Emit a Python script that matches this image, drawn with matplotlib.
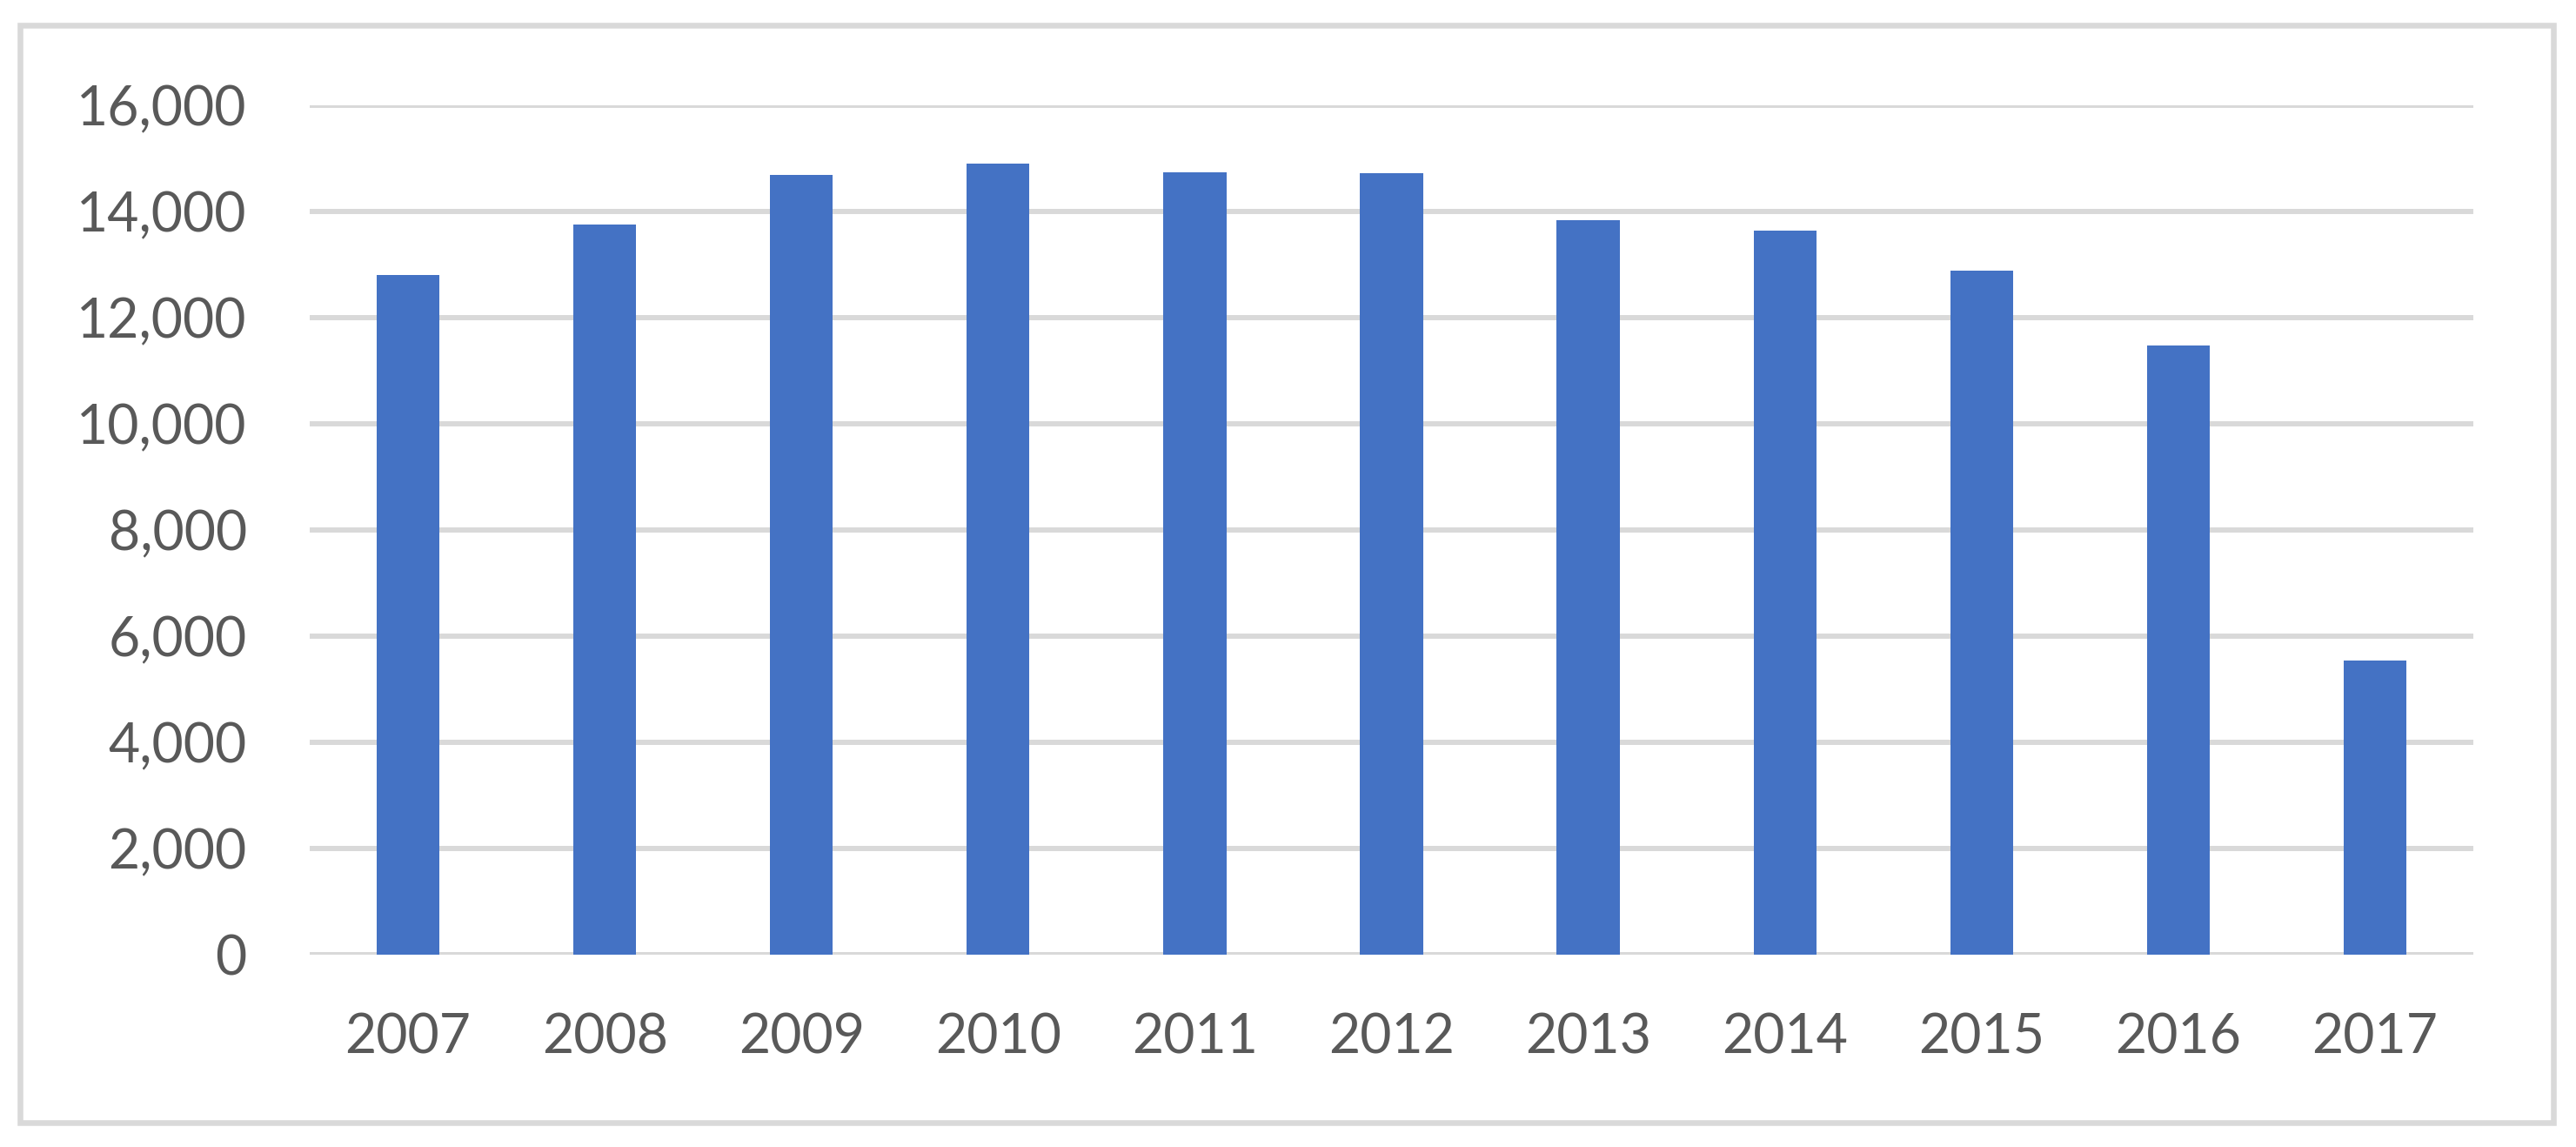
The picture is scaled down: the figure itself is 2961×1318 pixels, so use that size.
import matplotlib
matplotlib.use("Agg")
import matplotlib.pyplot as plt
from matplotlib.patches import Rectangle

years = ["2007", "2008", "2009", "2010", "2011", "2012", "2013", "2014", "2015", "2016", "2017"]
values = [12800, 13750, 14690, 14900, 14740, 14720, 13840, 13640, 12885, 11475, 5540]
y_ticks = [0, 2000, 4000, 6000, 8000, 10000, 12000, 14000, 16000]
y_tick_labels = ["0", "2,000", "4,000", "6,000", "8,000", "10,000", "12,000", "14,000", "16,000"]

W, H, DPI = 2961, 1318, 100
plt.rcParams['font.family'] = ['Lato', 'DejaVu Sans']

fig = plt.figure(figsize=(W / DPI, H / DPI), dpi=DPI)
fig.patch.set_facecolor("white")

left, right = 356 / W, 2843 / W
bottom, top = (H - 1097) / H, (H - 121) / H
ax = fig.add_axes([left, bottom, right - left, top - bottom])

x = list(range(len(years)))
ax.bar(x, values, width=0.32, color="#4472C4", zorder=3)

ax.set_xlim(-0.5, len(years) - 0.5)
ax.set_ylim(0, 16000)
ax.set_yticks(y_ticks)
ax.set_yticklabels(y_tick_labels)
ax.set_xticks(x)
ax.set_xticklabels(years)

ax.grid(axis="y", color="#D9D9D9", linewidth=4.3, zorder=0)
ax.grid(axis="x", visible=False)
ax.set_axisbelow(True)
for s in ax.spines.values():
    s.set_visible(False)
ax.tick_params(axis="both", length=0, labelcolor="#595959", labelsize=45)
ax.tick_params(axis="y", pad=52)
ax.tick_params(axis="x", pad=48)

# outer chart border
border = Rectangle((23 / W, (H - 1290) / H), (2935 - 23) / W, (1290 - 29) / H,
                   transform=fig.transFigure, fill=False, edgecolor="#D9D9D9",
                   linewidth=4.7, zorder=0)
fig.patches.append(border)

fig.savefig("out.png", dpi=DPI, facecolor="white")
